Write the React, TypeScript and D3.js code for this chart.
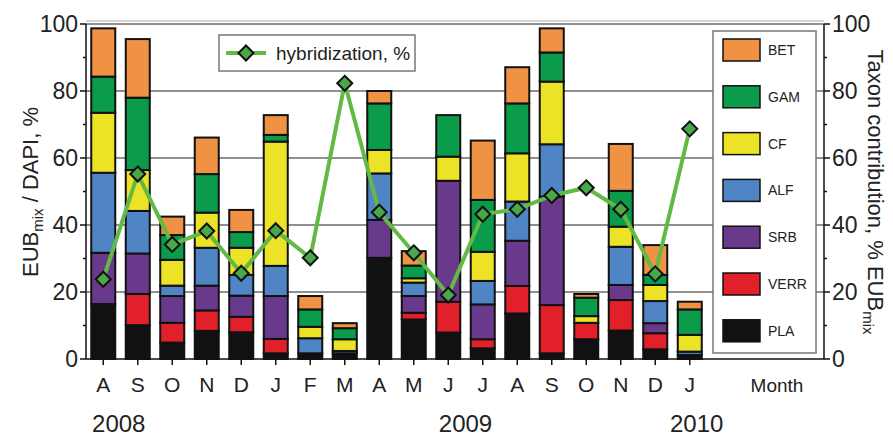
import { useMemo } from "react";
import { scaleLinear, scalePoint, stack, line } from "d3";

const months = ["A", "S", "O", "N", "D", "J", "F", "M", "A", "M", "J", "J", "A", "S", "O", "N", "D", "J"];
const years = [
  { label: "2008", at: 0.45 },
  { label: "2009", at: 10.5 },
  { label: "2010", at: 17.2 },
];

const PLA = [16.4, 10.1, 4.9, 8.4, 8.0, 1.7, 1.7, 1.7, 30.2, 11.8, 7.9, 3.2, 13.6, 1.7, 5.9, 8.5, 2.9, 1.2];
const VERR = [0, 9.3, 5.9, 6.1, 4.6, 4.3, 0, 0, 0, 2.0, 9.2, 2.7, 8.2, 14.4, 4.9, 9.1, 4.8, 0];
const SRB = [15.3, 12.1, 8.0, 7.4, 6.3, 12.8, 0, 0, 11.3, 5.0, 36.1, 10.4, 13.5, 32.4, 0, 4.5, 3.0, 0];
const ALF = [23.9, 12.7, 3.1, 11.3, 6.2, 9.0, 4.5, 0.7, 13.9, 4.0, 0, 7.0, 11.7, 15.6, 0, 11.4, 6.6, 1.0];
const CF = [17.9, 12.2, 7.7, 10.5, 8.1, 37.1, 3.4, 3.5, 7.0, 1.3, 7.2, 8.7, 14.4, 18.7, 2.0, 6.0, 4.8, 5.0];
const GAM = [10.8, 21.6, 7.4, 11.5, 4.7, 2.0, 5.2, 3.3, 13.9, 3.8, 12.4, 15.5, 14.9, 8.7, 5.5, 10.7, 3.0, 7.6];
const BET = [14.4, 17.5, 5.5, 10.9, 6.6, 5.9, 4.0, 1.5, 3.7, 4.3, 0, 17.7, 10.8, 7.2, 1.1, 14.0, 8.9, 2.3];
const hybrid = [23.8, 55.2, 34.2, 38.2, 25.6, 38.3, 30.2, 82.3, 43.8, 31.7, 19.1, 43.2, 44.7, 48.8, 51.1, 44.7, 25.4, 68.7];

const taxa = ["PLA", "VERR", "SRB", "ALF", "CF", "GAM", "BET"];
const taxonColors: Record<string, string> = {
  PLA: "#111114",
  VERR: "#e2202a",
  SRB: "#693a8c",
  ALF: "#4f84c5",
  CF: "#ece226",
  GAM: "#0a9c4b",
  BET: "#f09244",
};
const yTicks = [0, 20, 40, 60, 80, 100];
const yMinor = [10, 30, 50, 70, 90];

const W = 893;
const H = 437;
const font = "'Liberation Sans Narrow', 'Arial Narrow', 'Liberation Sans', Arial, sans-serif";

export default function App() {
  const left = 86;
  const right = 824;
  const top = 24;
  const bottom = 359;

  const x = useMemo(
    () => scalePoint<number>().domain(months.map((_, i) => i)).range([left, 707]).padding(0.5),
    []
  );
  const y = useMemo(() => scaleLinear().domain([0, 100]).range([bottom, top]), []);

  const rows = months.map((_, i) => ({
    PLA: PLA[i], VERR: VERR[i], SRB: SRB[i], ALF: ALF[i], CF: CF[i], GAM: GAM[i], BET: BET[i],
  }));
  const series = stack<any>().keys(taxa)(rows);
  const barW = 24;

  const hybPath = line<number>()
    .x((_, i) => x(i) as number)
    .y((d) => y(d))(hybrid) || "";

  const diamond = (cx: number, cy: number, r = 7.5) =>
    `M${cx},${cy - r} L${cx + r},${cy} L${cx},${cy + r} L${cx - r},${cy} Z`;

  const legendY = (i: number) => 50 + i * 46.8;
  const legendOrder = ["BET", "GAM", "CF", "ALF", "SRB", "VERR", "PLA"];

  return (
    <div style={{ position: "absolute", left: 0, top: 0, background: "#fff" }}>
      <svg width={W} height={H} style={{ display: "block", fontFamily: font }}>
        <rect width={W} height={H} fill="#fff" />
        {/* grid */}
        {[20, 40, 60, 80].map((t) => (
          <line key={t} x1={left} x2={right} y1={y(t)} y2={y(t)} stroke="#6b6b6b" strokeWidth={1.5} />
        ))}
        <line x1={left} x2={right} y1={top} y2={top} stroke="#6b6b6b" strokeWidth={1.5} />
        <line x1={left} x2={right} y1={top - 3} y2={top - 3} stroke="#aaa" strokeWidth={1} />

        {/* bars */}
        {series.map((s) =>
          s.map((d, i) => {
            const v = d[1] - d[0];
            if (v <= 0) return null;
            return (
              <rect
                key={`${s.key}-${i}`}
                x={(x(i) as number) - barW / 2}
                y={y(d[1])}
                width={barW}
                height={y(d[0]) - y(d[1])}
                fill={taxonColors[s.key]}
                stroke="#111"
                strokeWidth={2}
              />
            );
          })
        )}

        {/* hybridization line */}
        <path d={hybPath} fill="none" stroke="#63b946" strokeWidth={4} strokeLinejoin="round" />
        {hybrid.map((v, i) => (
          <path key={i} d={diamond(x(i) as number, y(v))} fill="#4aa84a" stroke="#111" strokeWidth={2} />
        ))}

        {/* hybridization legend */}
        <rect x={219} y={35} width={196} height={36} fill="#fff" stroke="#777" strokeWidth={1.5} />
        <line x1={226} x2={266} y1={53} y2={53} stroke="#63b946" strokeWidth={4} />
        <path d={diamond(246, 53)} fill="#4aa84a" stroke="#111" strokeWidth={2} />
        <text x={276} y={60} fontSize={19} fill="#222">hybridization, %</text>

        {/* taxon legend */}
        <rect x={713} y={31} width={103} height={322} fill="#fff" stroke="#777" strokeWidth={1.5} />
        {legendOrder.map((k, i) => (
          <g key={k}>
            <rect x={723} y={legendY(i) - 11} width={37} height={22} fill={taxonColors[k]} stroke="#111" strokeWidth={1.5} />
            <text x={768} y={legendY(i) + 5} fontSize={14} fill="#222">{k}</text>
          </g>
        ))}

        {/* axes */}
        <line x1={left} x2={left} y1={top} y2={bottom} stroke="#111" strokeWidth={1.5} />
        <line x1={right} x2={right} y1={top} y2={bottom} stroke="#111" strokeWidth={1.5} />
        <line x1={left} x2={right} y1={bottom} y2={bottom} stroke="#111" strokeWidth={1.5} />
        {yTicks.map((t) => (
          <g key={t}>
            <line x1={left - 6} x2={left} y1={y(t)} y2={y(t)} stroke="#111" strokeWidth={1.5} />
            <text x={left - 8} y={y(t) + 8} fontSize={23} textAnchor="end" fill="#222">{t}</text>
            <line x1={right} x2={right + 6} y1={y(t)} y2={y(t)} stroke="#111" strokeWidth={1.5} />
            <text x={right + 8} y={y(t) + 8} fontSize={23} fill="#222">{t}</text>
          </g>
        ))}
        {yMinor.map((t) => (
          <g key={t}>
            <line x1={left - 3} x2={left} y1={y(t)} y2={y(t)} stroke="#111" strokeWidth={1.5} />
            <line x1={right} x2={right + 3} y1={y(t)} y2={y(t)} stroke="#111" strokeWidth={1.5} />
          </g>
        ))}
        {months.map((m, i) => (
          <g key={i}>
            <line x1={x(i) as number} x2={x(i) as number} y1={bottom} y2={bottom + 6} stroke="#111" strokeWidth={1.5} />
            <text x={x(i) as number} y={392} fontSize={21} textAnchor="middle" fill="#222">{m}</text>
          </g>
        ))}
        <text x={777} y={392} fontSize={19} textAnchor="middle" fill="#222">Month</text>
        {years.map((yr) => (
          <text key={yr.label} x={x.step() * yr.at + (x(0) as number)} y={432} fontSize={24} textAnchor="middle" fill="#222">
            {yr.label}
          </text>
        ))}

        {/* axis titles */}
        <text transform="translate(38,192) rotate(-90)" fontSize={22} textAnchor="middle" fill="#222">
          EUB<tspan fontSize={15} dy={5}>mix</tspan>
          <tspan dy={-5}> / DAPI, %</tspan>
        </text>
        <text transform="translate(868,192) rotate(90)" fontSize={22} textAnchor="middle" fill="#222">
          Taxon contribution, % EUB<tspan fontSize={15} dy={5}>mix</tspan>
        </text>
      </svg>
    </div>
  );
}
